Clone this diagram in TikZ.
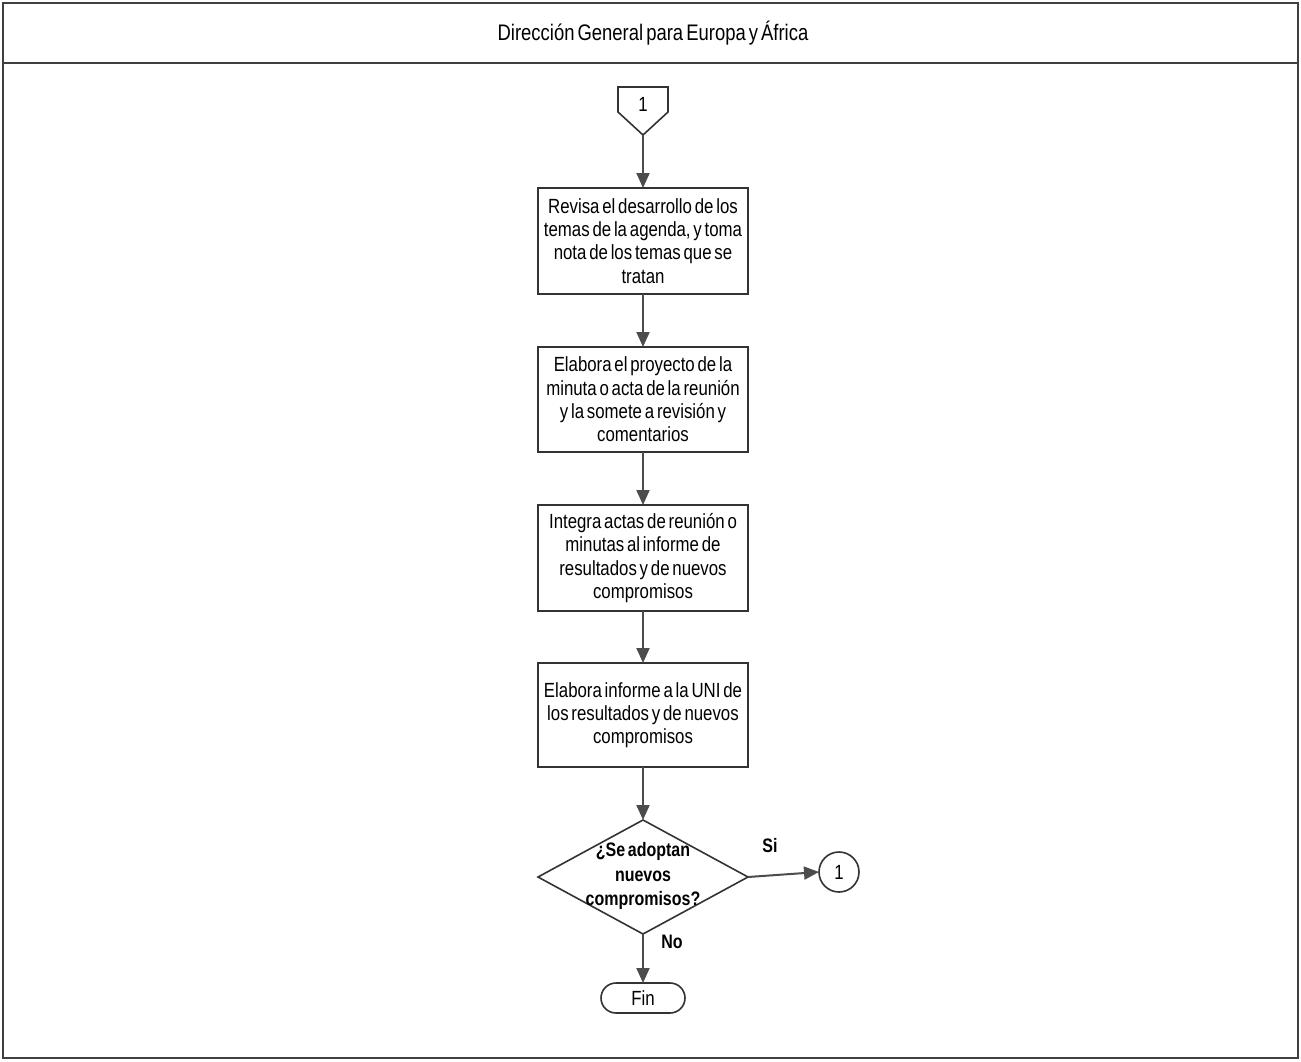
\documentclass[tikz,border=0pt]{standalone}
\usepackage{fontspec}
\setmainfont{Liberation Sans}[FakeStretch=0.82, WordSpace=0.6]
\usepackage{tikz}
\usetikzlibrary{positioning,shapes.geometric,arrows.meta}
\tikzset{
    frame-line/.style = {draw=black!75, line width=1.6pt},
    process-box/.style = {draw=black!80, fill=white, line width=1.6pt, rectangle, outer sep=0pt, minimum width=210pt, minimum height=106pt, align=center, inner sep=1pt, font=\fontsize{20.5}{23.3}\selectfont},
    decision-box/.style = {draw=black!80, fill=white, line width=1.6pt, diamond, outer sep=0pt, minimum width=210pt, minimum height=114pt, inner sep=0pt},
    flow-arrow/.style = {draw=black!70, line width=2pt, -{Triangle[length=15pt,width=13pt]}},
    flow-label/.style = {font=\fontsize{19.5}{24.5}\selectfont\bfseries},
}

\begin{document}
\begin{tikzpicture}[x=1pt, y=-1pt, node distance=53pt]
\useasboundingbox (0,0) rectangle (1301,1062);
% lane frame and header
\draw[frame-line] (3,3) rectangle (1298,1058);
\draw[frame-line] (3,63) -- (1298,63);
\node[font=\fontsize{22.5}{26}\selectfont] (lane) at (653,33) {Dirección General para Europa y África};

% incoming off-page connector
\draw[draw=black!80, line width=1.6pt, fill=white] (618,87) -- (668,87) -- (668,112) -- (643,135) -- (618,112) -- cycle;
\node[font=\fontsize{20.5}{22}\selectfont] (in-ref) at (643,104) {1};
\coordinate (in-tip) at (643,135);

\node [process-box, below=of in-tip] (revisa) {Revisa el desarrollo de los\\ temas de la agenda, y toma\\ nota de los temas que se\\ tratan};
\node [process-box, below=of revisa, minimum height=105pt] (elabora-acta) {Elabora el proyecto de la\\ minuta o acta de la reunión\\ y la somete a revisión y\\ comentarios};
\node [process-box, below=of elabora-acta] (integra) {Integra actas de reunión o\\ minutas al informe de\\ resultados y de nuevos\\ compromisos};
\node [process-box, below=52pt of integra, minimum height=104pt] (informe) {Elabora informe a la UNI de\\ los resultados y de nuevos\\ compromisos};
\node [decision-box, below=of informe, label={[flow-label, align=center, yshift=1pt]center:¿Se adoptan\\ nuevos\\ compromisos?}] (adoptan) {};
\node [draw=black!80, line width=1.6pt, circle, outer sep=0pt, minimum size=40pt, inner sep=0pt, right=71pt of adoptan, yshift=5pt, font=\fontsize{20.5}{22}\selectfont] (out-ref) {1};
\node [draw=black!80, line width=1.6pt, rectangle, outer sep=0pt, rounded corners=15pt, minimum width=84pt, minimum height=30pt, below=49pt of adoptan, font=\fontsize{20.5}{22}\selectfont] (fin) {Fin};

\draw[flow-arrow] (in-tip) -- (revisa);
\draw[flow-arrow] (revisa) -- (elabora-acta);
\draw[flow-arrow] (elabora-acta) -- (integra);
\draw[flow-arrow] (integra) -- (informe);
\draw[flow-arrow] (informe) -- (adoptan);
\draw[flow-arrow] (adoptan.east) -- (out-ref.west);
\draw[flow-arrow] (adoptan.south) -- (fin.north);
\node[flow-label] (si) at (770,846) {Si};
\node[flow-label] (no) at (672,942) {No};
\end{tikzpicture}
\end{document}
